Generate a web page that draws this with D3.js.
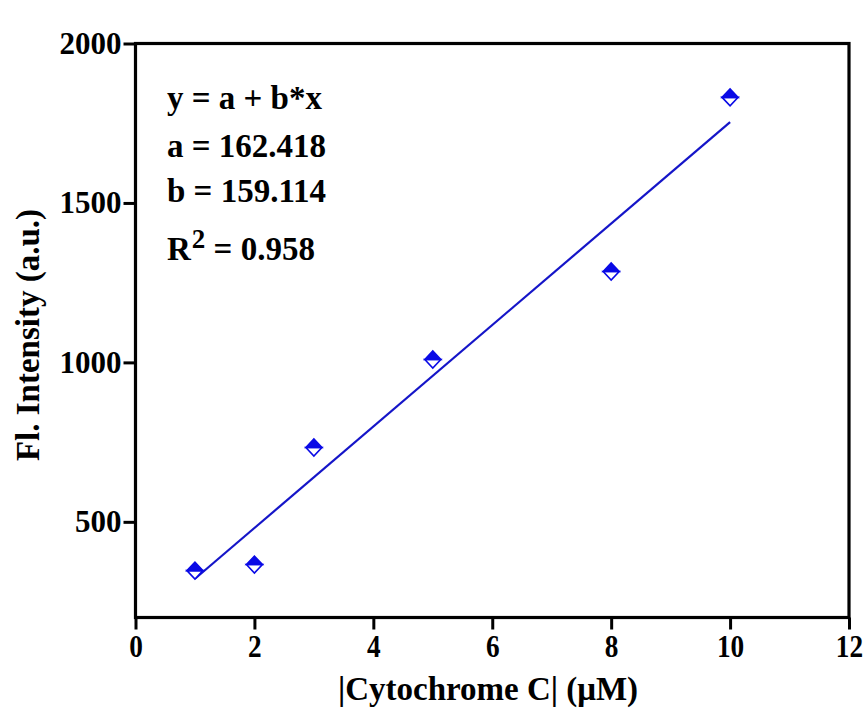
<!DOCTYPE html>
<html>
<head>
<meta charset="utf-8">
<script src="https://cdn.jsdelivr.net/npm/d3@7"></script>
<style>
  html, body { margin: 0; padding: 0; background: #fff; }
  svg text { font-family: "Liberation Serif", "Times New Roman", serif; font-weight: bold; fill: #000; }
</style>
</head>
<body>
<svg id="chart" width="863" height="711"></svg>
<script>
// Measured fluorescence intensity vs. cytochrome C concentration
const concentration = [1, 2, 3, 5, 8, 10];
const intensity = [347, 366, 733, 1009, 1285, 1831];

// Linear fit parameters
const fitA = 162.418;
const fitB = 159.114;
const fitR2 = 0.958;
const fitRange = [1, 10];

const xTicks = [0, 2, 4, 6, 8, 10, 12];
const yTicks = [500, 1000, 1500, 2000];

const svg = d3.select("#chart");
const plotLeft = 135.5, plotRight = 849, plotTop = 43.5, plotBottom = 617.5;

const x = d3.scaleLinear().domain([0, 12]).range([plotLeft, plotRight]);
const y = d3.scaleLinear().domain([200, 2000]).range([plotBottom, plotTop]);

const blue = "#0a0ae6";
const lineBlue = "#1515c8";

// frame
svg.append("rect")
  .attr("x", plotLeft).attr("y", plotTop)
  .attr("width", plotRight - plotLeft).attr("height", plotBottom - plotTop)
  .attr("fill", "none").attr("stroke", "#000").attr("stroke-width", 3.2);

// x axis
const xAxis = svg.append("g")
  .attr("transform", `translate(0,${plotBottom})`)
  .call(d3.axisBottom(x).tickValues(xTicks).tickSizeInner(12).tickSizeOuter(0).tickPadding(6).tickFormat(d3.format("d")));
xAxis.select(".domain").remove();
xAxis.selectAll(".tick line").attr("stroke", "#000").attr("stroke-width", 3);
xAxis.selectAll(".tick text").attr("font-size", 31).attr("font-family", "Liberation Serif").attr("font-weight", "bold")
  .attr("transform", "scale(0.88,1)");

// y axis
const yAxis = svg.append("g")
  .attr("transform", `translate(${plotLeft},0)`)
  .call(d3.axisLeft(y).tickValues(yTicks).tickSizeInner(12).tickSizeOuter(0).tickPadding(2).tickFormat(d3.format("d")));
yAxis.select(".domain").remove();
yAxis.selectAll(".tick line").attr("stroke", "#000").attr("stroke-width", 3);
yAxis.selectAll(".tick text").attr("font-size", 31).attr("font-family", "Liberation Serif").attr("font-weight", "bold");

// axis titles
svg.append("text")
  .attr("x", 488).attr("y", 700)
  .attr("text-anchor", "middle").attr("font-size", 33)
  .text("|Cytochrome C| (\u03BCM)");

svg.append("text")
  .attr("transform", `translate(39,335) rotate(-90)`)
  .attr("text-anchor", "middle").attr("font-size", 33)
  .text("Fl. Intensity (a.u.)");

// fit line
svg.append("line")
  .attr("x1", x(fitRange[0])).attr("y1", y(fitA + fitB * fitRange[0]))
  .attr("x2", x(fitRange[1])).attr("y2", y(fitA + fitB * fitRange[1]))
  .attr("stroke", lineBlue).attr("stroke-width", 2.2);

// half-filled diamond markers
const hw = 8, hh = 8.5;
const pts = concentration.map((c, i) => ({ c, v: intensity[i] }));
const mk = svg.append("g").selectAll("g").data(pts).join("g")
  .attr("transform", d => `translate(${x(d.c)},${y(d.v)})`);
mk.append("path")
  .attr("d", `M${-hw},0 L0,${hh} L${hw},0 Z`)
  .attr("fill", "#fff").attr("stroke", blue).attr("stroke-width", 1.6).attr("stroke-linejoin", "miter");
mk.append("path")
  .attr("d", `M${-hw},0 L0,${-hh} L${hw},0 Z`)
  .attr("fill", blue).attr("stroke", blue).attr("stroke-width", 1.6);

// fit annotation
const ann = svg.append("g").attr("font-size", 33);
ann.append("text").attr("x", 167).attr("y", 109).text("y = a + b*x");
ann.append("text").attr("x", 167).attr("y", 157).text(`a = ${fitA.toFixed(3)}`);
ann.append("text").attr("x", 167).attr("y", 202).text(`b = ${fitB.toFixed(3)}`);
const r2 = ann.append("text").attr("x", 167).attr("y", 260);
r2.append("tspan").text("R");
r2.append("tspan").attr("dx", 1).attr("dy", -12).attr("font-size", 27).text("2");
r2.append("tspan").attr("dy", 12).text(` = ${fitR2.toFixed(3)}`);
</script>
</body>
</html>
